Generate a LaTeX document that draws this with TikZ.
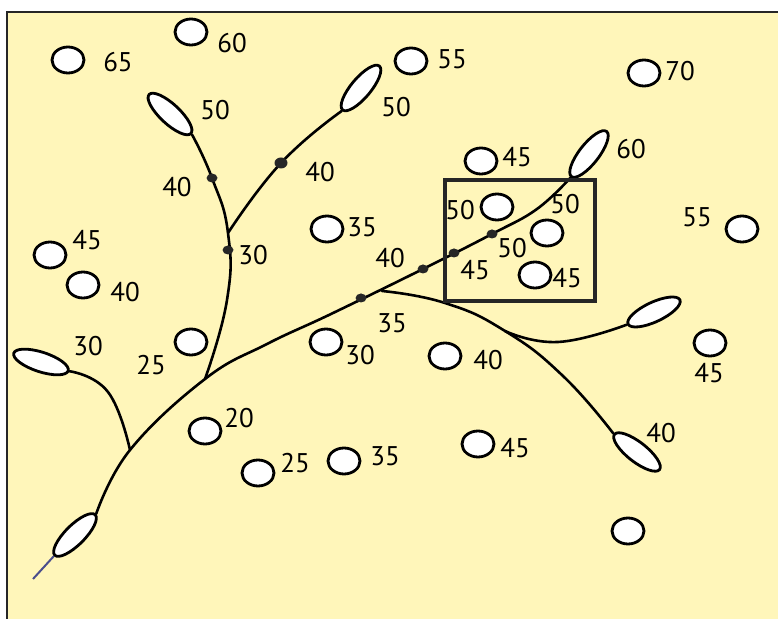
\documentclass[tikz,border=0pt]{standalone}
\usepackage{fontspec}
\setmainfont{PT Sans}
\usetikzlibrary{shapes.geometric}
\definecolor{paper}{RGB}{255,246,186}
\definecolor{stub}{RGB}{74,78,140}
\tikzset{
  well/.style={draw, ellipse, fill=white, line width=1.4pt, minimum width=16pt, minimum height=13pt, inner sep=0pt},
  leaf/.style={draw, ellipse, fill=white, line width=1.4pt, minimum width=28.6pt, minimum height=9.8pt, inner sep=0pt},
  val/.style={font=\fontsize{13.5}{16}\selectfont, inner sep=0pt},
  branch/.style={line width=1.3pt, line cap=round},
  jn/.style={fill=black!85, ellipse, minimum width=5.5pt, minimum height=4.5pt, inner sep=0pt},
  frame/.style={line width=1.3pt, black!85},
  inset/.style={line width=2pt, black!85},
}
\begin{document}
\begin{tikzpicture}[x=0.5pt,y=-0.5pt]
\useasboundingbox (0,0) rectangle (778,619);
\fill[paper] (7,12) rectangle (778,619);
\draw[frame] (778,12) -- (7,12) -- (7,619);
\node[leaf, rotate=-43] (leafA) at (170,114) {};
\node[leaf, rotate=50] (leafB) at (361,88) {};
\node[leaf, rotate=52] (leafC) at (589,154) {};
\node[leaf, rotate=45] (leafD) at (75,535) {};
\node[leaf, rotate=-18] (leafE) at (41,362) {};
\node[leaf, rotate=25] (leafF) at (654,312) {};
\node[leaf, rotate=-38] (leafG) at (637,452) {};
\coordinate (j1) at (130,450);
\coordinate (j2) at (205,379);
\coordinate (j3) at (382,291);
\coordinate (j4) at (228,233);
\coordinate (k) at (505,331);
\coordinate (d1) at (361,298);
\coordinate (d2) at (423,269);
\coordinate (d3) at (454,253);
\coordinate (d4) at (492,234);
\coordinate (d5) at (212,178);
\coordinate (d6) at (228,250);
\coordinate (d7) at (281,163);
\coordinate (tip) at (33,579);
\draw[branch] plot[smooth, tension=0.7] coordinates {(leafD.east) (j1) (j2) (267,344) (331,314) (d2) (d4) (537,209) (leafC.west)};
\draw[branch] plot[smooth, tension=0.8] coordinates {(leafA.east) (d5) (j4) (227,300) (j2)};
\draw[branch] plot[smooth, tension=0.8] coordinates {(leafB.west) (d7) (j4)};
\draw[branch] plot[smooth, tension=0.8] coordinates {(leafE.east) (108,392) (j1)};
\draw[branch] plot[smooth, tension=0.8] coordinates {(j3) (445,303) (k) (563,376) (leafG.west)};
\draw[branch] plot[smooth, tension=0.8] coordinates {(k) (558,342) (leafF.west)};
\draw[line width=1pt, stub] (leafD.west) -- (tip);
\draw[inset] (445,180) rectangle (595,301);
\foreach \d in {d1,d2,d3,d4,d5,d6}
  \node[jn] at (\d) {};
\node[jn, minimum width=6.5pt, minimum height=5.5pt] at (d7) {};
\node[well] (w1) at (68,60) {};
\node[well] (w2) at (191,32) {};
\node[well] (w3) at (411,61) {};
\node[well] (w4) at (644,73) {};
\node[well] (w5) at (481,161) {};
\node[well] (w6) at (497,207) {};
\node[well] (w7) at (547,233) {};
\node[well] (w8) at (535,275) {};
\node[well] (w9) at (327,229) {};
\node[well] (w10) at (50,255) {};
\node[well] (w11) at (83,285) {};
\node[well] (w12) at (191,342) {};
\node[well] (w13) at (326,342) {};
\node[well] (w14) at (445,356) {};
\node[well] (w15) at (710,343) {};
\node[well] (w16) at (742,229) {};
\node[well] (w17) at (205,431) {};
\node[well] (w18) at (258,473) {};
\node[well] (w19) at (344,461) {};
\node[well] (w20) at (478,444) {};
\node[well] (w21) at (628,531) {};
\node[val] (v1) at (118,62) {65};
\node[val] (v2) at (232,43) {60};
\node[val] (v3) at (215,110) {50};
\node[val] (v4) at (396,107) {50};
\node[val] (v5) at (452,59) {55};
\node[val] (v6) at (680,71) {70};
\node[val] (v7) at (517,157) {45};
\node[val] (v8) at (631,149) {60};
\node[val] (v9) at (177,187) {40};
\node[val] (v10) at (320,172) {40};
\node[val] (v11) at (253,255) {30};
\node[val] (v12) at (362,227) {35};
\node[val] (v13) at (87,240) {45};
\node[val] (v14) at (125,292) {40};
\node[val] (v15) at (460,210) {50};
\node[val] (v16) at (565,204) {50};
\node[val] (v17) at (512,248) {50};
\node[val] (v18) at (475,270) {45};
\node[val] (v19) at (567,278) {45};
\node[val] (v20) at (390,258) {40};
\node[val] (v21) at (697,217) {55};
\node[val] (v22) at (392,323) {35};
\node[val] (v23) at (88,346) {30};
\node[val] (v24) at (151,365) {25};
\node[val] (v25) at (360,355) {30};
\node[val] (v26) at (488,360) {40};
\node[val] (v27) at (709,373) {45};
\node[val] (v28) at (239,418) {20};
\node[val] (v29) at (295,463) {25};
\node[val] (v30) at (385,456) {35};
\node[val] (v31) at (515,448) {45};
\node[val] (v32) at (661,433) {40};
\end{tikzpicture}
\end{document}
